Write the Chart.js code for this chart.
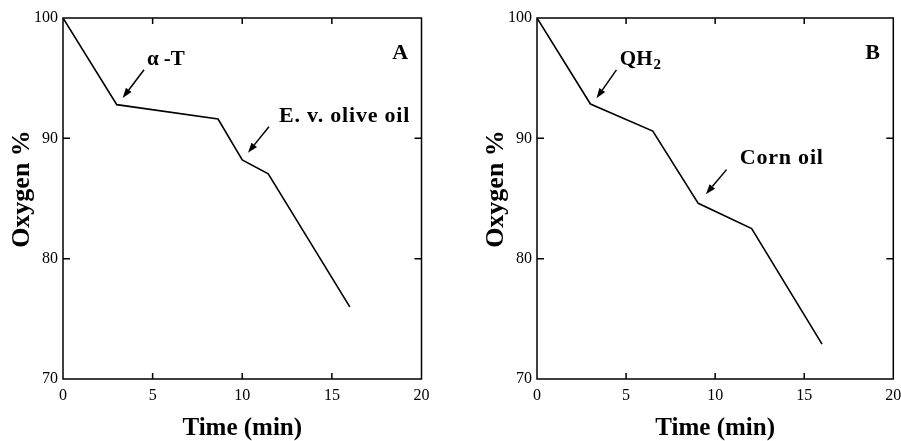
<!DOCTYPE html>
<html>
<head>
<meta charset="utf-8">
<script src="https://cdn.jsdelivr.net/npm/chart.js@4/dist/chart.umd.min.js"></script>
<style>
  body { margin: 0; background: #fff; }
  .panel { position: absolute; top: 0; height: 441px; }
  #boxA { left: 0; width: 450px; }
  #boxB { left: 450px; width: 451px; }
</style>
</head>
<body>
<div class="panel" id="boxA"><canvas id="chartA"></canvas></div>
<div class="panel" id="boxB"><canvas id="chartB"></canvas></div>
<script>
// values
const xTicks = [0, 5, 10, 15, 20];
const yTicks = [70, 80, 90, 100];

const timeA = [0, 3, 8.65, 10, 11.45, 16];
const oxygenA = [100, 92.8, 91.6, 88.2, 87.05, 76];

const timeB = [0, 3, 6.5, 9.05, 12.05, 16];
const oxygenB = [100, 92.85, 90.6, 84.6, 82.5, 72.9];

// annotation labels: [text, x, y] in data units, arrows: [x tail, y tail, x head, y head]
const labelsA = [['\u03b1 -T', 4.68, 96.55], ['E. v. olive oil', 12.05, 91.8]];
const arrowsA = [[4.52, 95.7, 3.33, 93.36], [11.49, 90.97, 10.32, 88.81]];
const labelsB = [['QH', 4.65, 96.55], ['Corn oil', 11.38, 88.3]];
const arrowsB = [[4.46, 95.69, 3.34, 93.33], [10.64, 87.4, 9.48, 85.36]];

const serif = '"Liberation Serif", "Times New Roman", serif';

const framePlugin = {
    id: 'frame',
    afterDraw(chart) {
        const ctx = chart.ctx;
        const a = chart.chartArea;
        const xs = chart.scales.x, ys = chart.scales.y;
        const opts = chart.options.plugins.frame;
        ctx.save();
        ctx.strokeStyle = '#000';
        ctx.lineWidth = 1.5;
        ctx.strokeRect(a.left, a.top, a.right - a.left, a.bottom - a.top);
        // inward ticks on all four sides
        ctx.beginPath();
        xTicks.slice(1, -1).forEach(v => {
            const px = xs.getPixelForValue(v);
            ctx.moveTo(px, a.bottom); ctx.lineTo(px, a.bottom - 6);
            ctx.moveTo(px, a.top); ctx.lineTo(px, a.top + 6);
        });
        yTicks.slice(1, -1).forEach(v => {
            const py = ys.getPixelForValue(v);
            ctx.moveTo(a.left, py); ctx.lineTo(a.left + 7, py);
            ctx.moveTo(a.right, py); ctx.lineTo(a.right - 7, py);
        });
        ctx.stroke();

        // arrows
        ctx.fillStyle = '#000';
        ctx.lineWidth = 1.5;
        opts.arrows.forEach(([x1, y1, x2, y2]) => {
            const sx = xs.getPixelForValue(x1), sy = ys.getPixelForValue(y1);
            const ex = xs.getPixelForValue(x2), ey = ys.getPixelForValue(y2);
            const ang = Math.atan2(ey - sy, ex - sx);
            const hl = 10, hw = 3.5;
            const bx = ex - hl * Math.cos(ang), by = ey - hl * Math.sin(ang);
            ctx.beginPath();
            ctx.moveTo(sx, sy); ctx.lineTo(bx, by);
            ctx.stroke();
            ctx.beginPath();
            ctx.moveTo(ex, ey);
            ctx.lineTo(bx + hw * Math.sin(ang), by - hw * Math.cos(ang));
            ctx.lineTo(bx - hw * Math.sin(ang), by + hw * Math.cos(ang));
            ctx.closePath();
            ctx.fill();
        });

        // labels
        ctx.textBaseline = 'middle';
        ctx.textAlign = 'left';
        opts.labels.forEach(([t, x, y]) => {
            const px = xs.getPixelForValue(x), py = ys.getPixelForValue(y);
            const wide = t.length > 4;
            ctx.font = 'bold ' + (wide ? 22 : 21) + 'px ' + serif;
            ctx.letterSpacing = wide ? '0.8px' : '0px';
            ctx.fillText(t, px, py);
            if (opts.sub && t === 'QH') {
                const w = ctx.measureText(t).width;
                ctx.font = 'bold 15px ' + serif;
                ctx.fillText('2', px + w + 1, py + 6);
            }
        });
        ctx.letterSpacing = '0px';
        ctx.font = 'bold 22px ' + serif;
        ctx.textAlign = 'right';
        ctx.fillText(opts.letter, xs.getPixelForValue(19.25), ys.getPixelForValue(97.1));

        // y axis title
        ctx.save();
        ctx.translate(a.left - 41, 189);
        ctx.rotate(-Math.PI / 2);
        ctx.textAlign = 'center';
        ctx.font = 'bold 26px ' + serif;
        ctx.fillText('Oxygen %', 0, 0);
        ctx.restore();
        ctx.restore();
    }
};

function makePanel(id, times, values, labels, arrows, letter, axisWidth, padRight) {
    const points = times.map((t, i) => ({ x: t, y: values[i] }));
    return new Chart(document.getElementById(id), {
        type: 'line',
        data: {
            datasets: [{
                data: points,
                borderColor: '#000',
                borderWidth: 1.6,
                pointRadius: 0,
                fill: false,
                tension: 0
            }]
        },
        options: {
            responsive: true,
            maintainAspectRatio: false,
            animation: false,
            layout: { padding: { top: 18, right: padRight, left: 0, bottom: 0 } },
            plugins: {
                legend: { display: false },
                tooltip: { enabled: false },
                frame: { labels: labels, arrows: arrows, letter: letter, sub: letter === 'B' }
            },
            scales: {
                x: {
                    type: 'linear',
                    min: 0, max: 20,
                    afterBuildTicks: s => { s.ticks = xTicks.map(v => ({ value: v })); },
                    afterFit: s => { s.height = 62; s.paddingLeft = 0; s.paddingRight = 0; },
                    grid: { display: false, drawTicks: false },
                    border: { display: false },
                    ticks: { color: '#000', padding: 7, font: { family: serif, size: 16 } },
                    title: {
                        display: true, text: 'Time (min)', color: '#000',
                        font: { family: serif, size: 25, weight: 'bold' },
                        padding: { top: 0, bottom: -3 }
                    }
                },
                y: {
                    min: 70, max: 100,
                    afterBuildTicks: s => { s.ticks = yTicks.map(v => ({ value: v })); },
                    afterFit: s => { s.width = axisWidth; s.paddingTop = 0; s.paddingBottom = 0; },
                    grid: { display: false, drawTicks: false },
                    border: { display: false },
                    ticks: { color: '#000', padding: 5, font: { family: serif, size: 16 } },
                    title: { display: false }
                }
            }
        },
        plugins: [framePlugin]
    });
}

makePanel('chartA', timeA, oxygenA, labelsA, arrowsA, 'A', 63, 28.5);
makePanel('chartB', timeB, oxygenB, labelsB, arrowsB, 'B', 87, 7.7);
</script>
</body>
</html>
